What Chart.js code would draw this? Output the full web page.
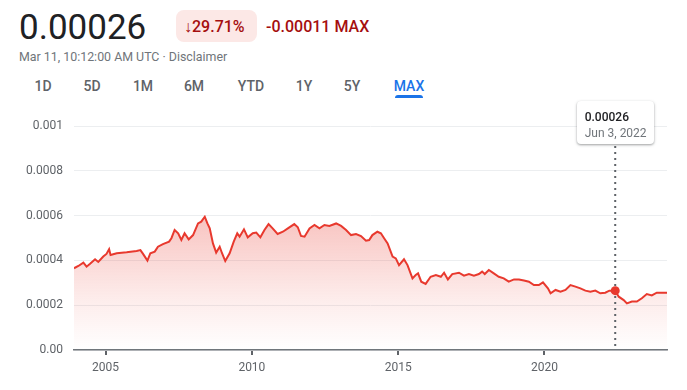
<!DOCTYPE html>
<html><head><meta charset="utf-8">
<script src="https://cdn.jsdelivr.net/npm/chart.js@4.4.1/dist/chart.umd.min.js"></script>
<style>
html,body{margin:0;padding:0;background:#fff;}
body{width:687px;height:390px;position:relative;overflow:hidden;font-family:Roboto,Arial,sans-serif;}
#c{position:absolute;left:0;top:0;}
.abs{position:absolute;white-space:nowrap;line-height:1;}
.tab{position:absolute;top:79px;font-size:14px;font-weight:500;color:#5f6368;transform:translateX(-50%);line-height:14px;white-space:nowrap;}
#tip{position:absolute;background:#fff;border-radius:4px;box-shadow:0 1px 3px rgba(60,64,67,0.35),0 1px 2px rgba(60,64,67,0.2);padding:0 8px;box-sizing:border-box;height:43px;width:77px;white-space:nowrap;}
</style></head><body>
<div class="abs" style="left:19px;top:10px;font-size:35px;color:#202124;">0.00026</div>
<div class="abs" style="left:176px;top:10px;width:81px;height:32px;background:#fce8e6;border-radius:8px;"></div>
<div class="abs" style="left:184px;top:19px;font-size:16px;font-weight:500;color:#a50e0e;line-height:16px;">↓29.71%</div>
<div class="abs" style="left:266px;top:19px;font-size:16px;font-weight:500;color:#a50e0e;line-height:16px;">-0.00011 MAX</div>
<div class="abs" style="left:19px;top:51px;font-size:12.4px;color:#70757a;line-height:12px;">Mar 11, 10:12:00 AM UTC · Disclaimer</div>
<div class="tab" style="left:43px;">1D</div>
<div class="tab" style="left:92px;">5D</div>
<div class="tab" style="left:143px;">1M</div>
<div class="tab" style="left:194px;">6M</div>
<div class="tab" style="left:251px;">YTD</div>
<div class="tab" style="left:304px;">1Y</div>
<div class="tab" style="left:352px;">5Y</div>
<div class="tab" style="left:409px;color:#1a73e8;">MAX</div>
<div class="abs" style="left:395px;top:95px;width:28px;height:3px;background:#1a73e8;border-radius:3px 3px 0 0;"></div>
<canvas id="c" width="687" height="390"></canvas>
<div id="tip"><div style="font-size:12px;font-weight:500;color:#202124;line-height:12px;padding-top:10px;">0.00026</div><div style="font-size:12px;color:#70757a;line-height:12px;padding-top:4px;">Jun 3, 2022</div></div>
<script>
const years = [2003.92,2004.07,2004.24,2004.35,2004.46,2004.64,2004.75,2004.92,2005.03,2005.12,2005.17,2005.38,2005.72,2006.06,2006.19,2006.28,2006.43,2006.53,2006.68,2006.79,2006.96,2007.17,2007.25,2007.36,2007.48,2007.59,2007.70,2007.84,2007.99,2008.16,2008.27,2008.39,2008.48,2008.56,2008.67,2008.78,2008.90,2008.98,2009.09,2009.24,2009.38,2009.50,2009.58,2009.73,2009.86,2010.03,2010.15,2010.29,2010.43,2010.57,2010.71,2010.88,2011.06,2011.23,2011.45,2011.57,2011.68,2011.80,2011.97,2012.14,2012.31,2012.48,2012.65,2012.88,2013.05,2013.22,2013.39,2013.56,2013.73,2013.90,2014.01,2014.12,2014.29,2014.41,2014.52,2014.64,2014.81,2014.92,2015.03,2015.20,2015.32,2015.49,2015.60,2015.68,2015.79,2015.94,2016.11,2016.29,2016.46,2016.57,2016.70,2016.85,2017.08,2017.25,2017.42,2017.59,2017.76,2017.87,2017.96,2018.10,2018.27,2018.44,2018.61,2018.78,2018.96,2019.13,2019.30,2019.47,2019.64,2019.81,2019.95,2020.12,2020.21,2020.38,2020.55,2020.72,2020.89,2021.06,2021.23,2021.40,2021.57,2021.74,2021.91,2022.08,2022.22,2022.42,2022.54,2022.71,2022.82,2022.99,2023.16,2023.33,2023.50,2023.67,2023.84,2024.01,2024.19];
const values = [0.000365,0.000375,0.00039,0.000372,0.000384,0.000405,0.000393,0.000417,0.000429,0.00045,0.000424,0.000432,0.000436,0.000442,0.000446,0.000429,0.000399,0.000432,0.000439,0.000461,0.000473,0.000484,0.000499,0.000536,0.000521,0.000491,0.000521,0.000494,0.000513,0.000565,0.000573,0.000595,0.000565,0.000543,0.000476,0.000435,0.000461,0.000432,0.000397,0.000432,0.000484,0.000521,0.000506,0.000539,0.000503,0.000521,0.000524,0.000503,0.000536,0.000562,0.000543,0.000518,0.000528,0.000543,0.000562,0.000548,0.000509,0.000506,0.000543,0.000558,0.000543,0.000558,0.000554,0.000565,0.000554,0.000536,0.000513,0.000518,0.000509,0.000488,0.000491,0.000513,0.000528,0.000521,0.000499,0.000476,0.000417,0.000409,0.000379,0.000405,0.000379,0.00032,0.000335,0.000342,0.000305,0.000295,0.000327,0.000335,0.000327,0.000345,0.000315,0.000339,0.000345,0.000332,0.000339,0.000332,0.000339,0.00035,0.000339,0.000357,0.000342,0.000327,0.00032,0.000305,0.000315,0.000315,0.00031,0.000305,0.00029,0.00029,0.000302,0.000275,0.000253,0.000268,0.00026,0.000268,0.00029,0.000283,0.000275,0.000265,0.00026,0.000265,0.000253,0.000256,0.000265,0.000265,0.000238,0.000223,0.000208,0.000216,0.000216,0.000231,0.00025,0.000244,0.000256,0.000256,0.000256];
const xTickYears = [2005, 2010, 2015, 2020];
const yTickValues = [0, 0.0002, 0.0004, 0.0006, 0.0008, 0.001];
const yTickLabels = ['0.00', '0.0002', '0.0004', '0.0006', '0.0008', '0.001'];
const hoverYear = 2022.42;

const points = years.map((x, i) => ({x: x, y: values[i]}));
const hoverIndex = years.indexOf(hoverYear);

const hoverPlugin = {
  id: 'hover',
  afterDatasetsDraw(chart) {
    const {ctx, chartArea, scales} = chart;
    const px = scales.x.getPixelForValue(years[hoverIndex]);
    const py = scales.y.getPixelForValue(values[hoverIndex]);
    const tipTop = chartArea.top - 25, tipH = 43;
    ctx.save();
    ctx.strokeStyle = '#5f6368';
    ctx.lineWidth = 2;
    ctx.setLineDash([2, 4]);
    ctx.beginPath();
    ctx.moveTo(px, tipTop + tipH + 2);
    ctx.lineTo(px, chartArea.bottom);
    ctx.stroke();
    ctx.setLineDash([]);
    ctx.fillStyle = '#e8392e';
    ctx.beginPath();
    ctx.arc(px, py, 4.5, 0, Math.PI * 2);
    ctx.fill();
    ctx.restore();
    const tip = document.getElementById('tip');
    tip.style.left = (px - tip.offsetWidth / 2) + 'px';
    tip.style.top = tipTop + 'px';
  }
};

new Chart(document.getElementById('c'), {
  type: 'line',
  data: {
    datasets: [{
      data: points,
      borderColor: '#e8392e',
      borderWidth: 2,
      pointRadius: 0,
      tension: 0,
      fill: 'origin',
      backgroundColor(context) {
        const {chart} = context;
        const {ctx, chartArea, scales} = chart;
        if (!chartArea) return 'rgba(232,57,46,0.2)';
        const top = scales.y.getPixelForValue(0.0006);
        const g = ctx.createLinearGradient(0, top, 0, chartArea.bottom);
        g.addColorStop(0, 'rgba(232,57,46,0.30)');
        g.addColorStop(0.6, 'rgba(232,57,46,0.10)');
        g.addColorStop(1, 'rgba(232,57,46,0.0)');
        return g;
      }
    }]
  },
  options: {
    responsive: false,
    animation: false,
    events: [],
    layout: {padding: {top: 126, right: 20, left: 0, bottom: 0}},
    plugins: {legend: {display: false}, tooltip: {enabled: false}},
    scales: {
      x: {
        type: 'linear',
        min: years[0],
        max: years[years.length - 1],
        afterBuildTicks(axis) { axis.ticks = xTickYears.map(v => ({value: v})); },
        afterFit(axis) { axis.height = 40; },
        ticks: {
          color: '#5f6368',
          font: {family: 'Roboto', size: 12},
          padding: 6,
          maxRotation: 0,
          callback: v => String(v)
        },
        grid: {drawOnChartArea: false, drawTicks: true, tickLength: 5, color: '#5f6368', lineWidth: 2},
        border: {display: true, color: '#70757a', width: 1.5}
      },
      y: {
        min: 0,
        max: 0.001,
        afterBuildTicks(axis) { axis.ticks = yTickValues.map(v => ({value: v})); },
        afterFit(axis) { axis.width = 74; },
        ticks: {
          color: '#5f6368',
          font: {family: 'Roboto', size: 12},
          padding: 11,
          callback: (v, i) => yTickLabels[i]
        },
        grid: {color: '#eceef0', lineWidth: 1, drawTicks: false},
        border: {display: false}
      }
    }
  },
  plugins: [hoverPlugin]
});
</script>
</body></html>
